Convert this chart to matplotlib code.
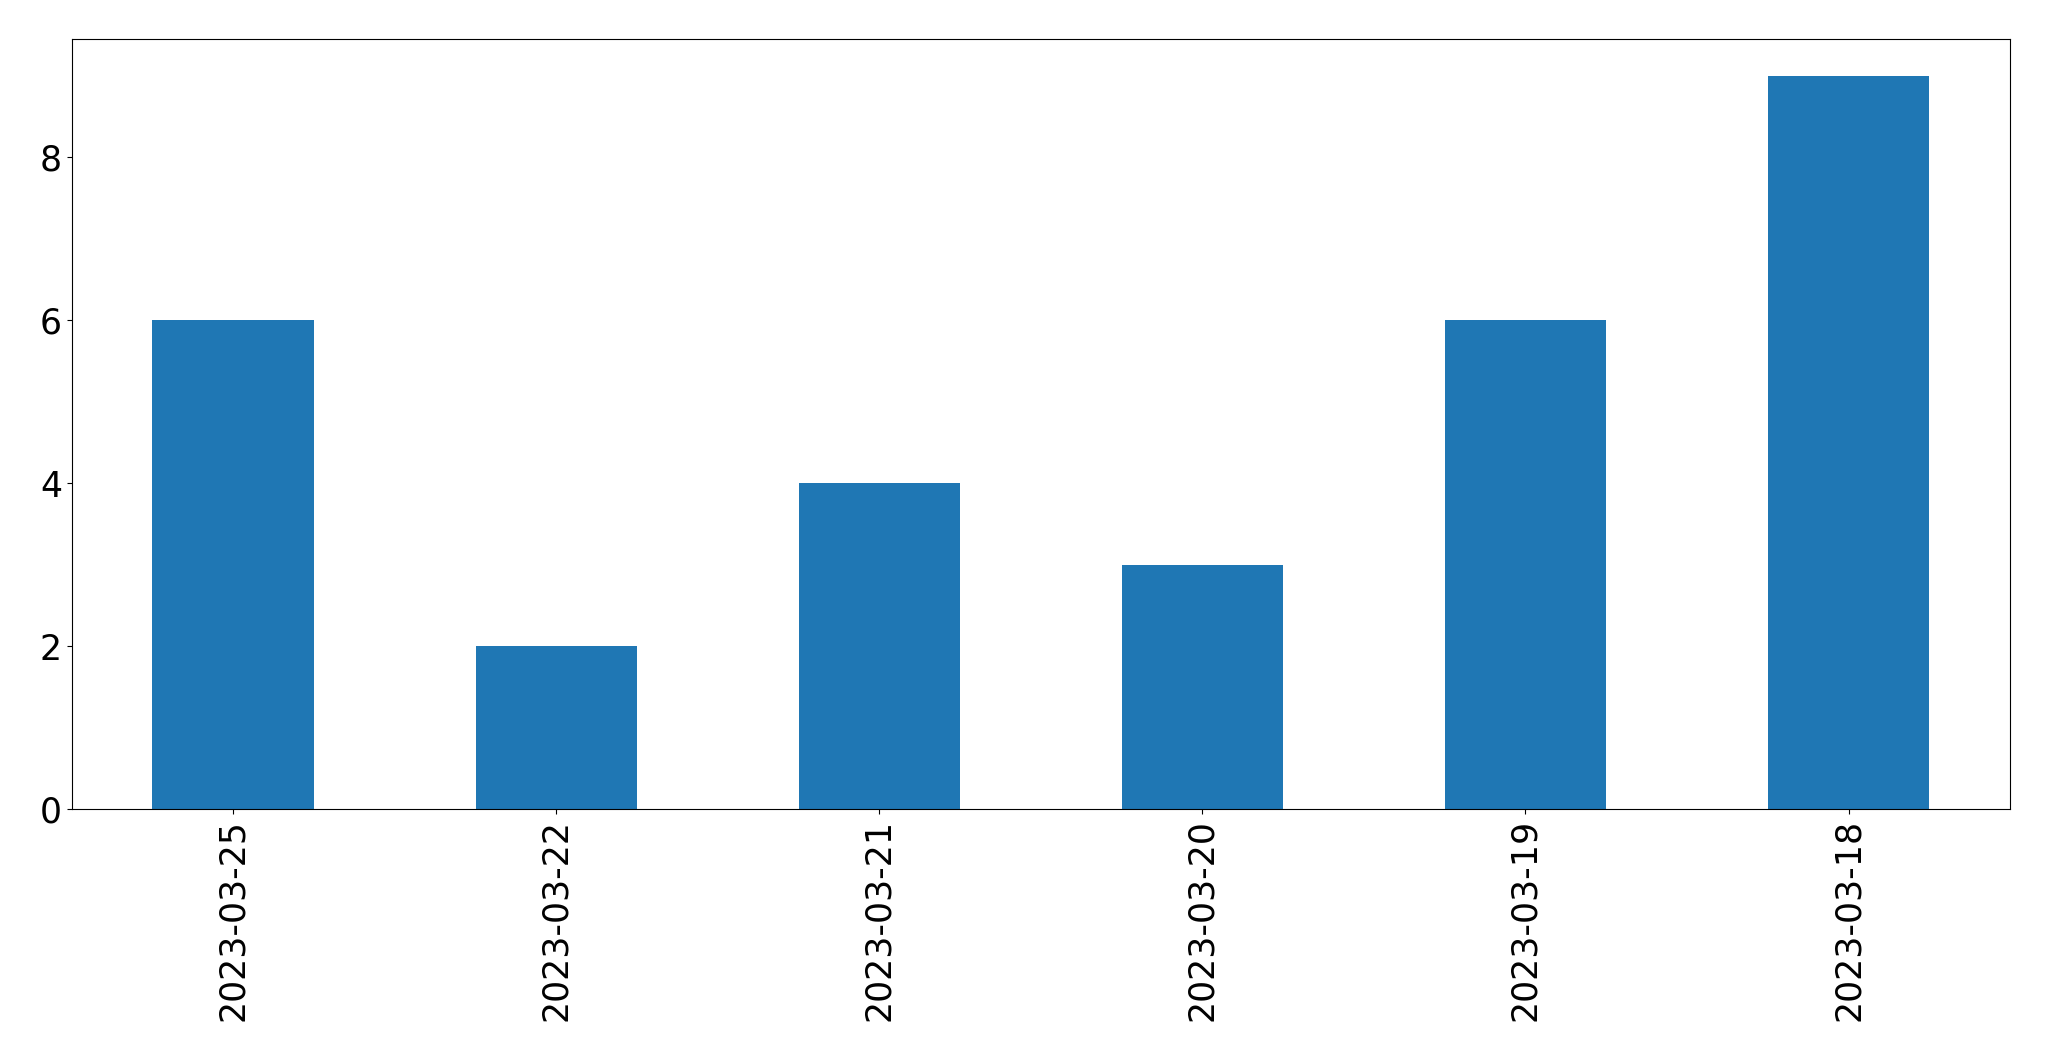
import matplotlib
matplotlib.use("Agg")
import matplotlib.pyplot as plt
import pandas as pd

dates = ["2023-03-25", "2023-03-22", "2023-03-21", "2023-03-20", "2023-03-19", "2023-03-18"]
counts = [6, 2, 4, 3, 6, 9]

s = pd.Series(counts, index=dates)

fig, ax = plt.subplots(figsize=(20.49, 10.61), dpi=100)
s.plot(kind="bar", ax=ax, color="#1f77b4")
ax.tick_params(axis="both", labelsize=25)
fig.subplots_adjust(left=0.035, right=0.981, top=0.963, bottom=0.2375)
fig.savefig("out.png", dpi=100)
